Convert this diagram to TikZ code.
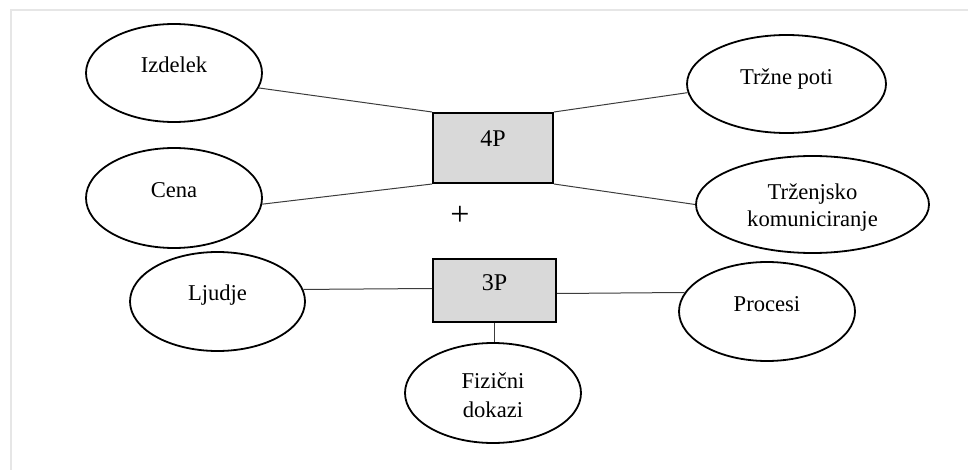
\documentclass[tikz,border=0pt]{standalone}
\usepackage{fontspec}
\setmainfont{Liberation Serif}
\usetikzlibrary{shapes.geometric}

\definecolor{framegray}{HTML}{E6E6E6}
\definecolor{boxfill}{HTML}{D9D9D9}
\definecolor{linkgray}{HTML}{3C3C3C}

\tikzset{
  oval/.style={ellipse, draw=black, line width=0.9pt, fill=white, inner sep=0pt},
  pbox/.style={rectangle, draw=black, line width=1pt, fill=boxfill, inner sep=0pt},
  label text/.style={anchor=base, inner sep=0pt, font=\fontsize{11.3}{13}\selectfont},
  box text/.style={anchor=base, inner sep=0pt, font=\fontsize{12}{14}\selectfont},
  link/.style={draw=linkgray, line width=0.5pt},
  frame line/.style={draw=framegray, line width=1pt}
}

\begin{document}
\begin{tikzpicture}[x=0.5pt, y=-0.5pt]
  \useasboundingbox (0,0) rectangle (968,470);

  % outer frame (top and left edges)
  \draw[frame line] (11,471) -- (11,10) -- (969,10);

  % central boxes
  \node[pbox, minimum width=60pt, minimum height=35pt] (p4) at (493,148) {};
  \node[pbox, minimum width=61.5pt, minimum height=31.5pt] (p3) at (494.5,290.5) {};

  % 4P elements
  \node[oval, minimum width=88pt, minimum height=49pt] (izd) at (174,73) {};
  \node[oval, minimum width=88pt, minimum height=50pt] (cena) at (174,198) {};
  \node[oval, minimum width=99.5pt, minimum height=49pt] (trz) at (786.5,84) {};
  \node[oval, minimum width=116.5pt, minimum height=48.5pt] (tk) at (812.5,204.5) {};

  % 3P elements
  \node[oval, minimum width=87.5pt, minimum height=49.5pt] (lju) at (217.5,301.5) {};
  \node[oval, minimum width=88pt, minimum height=49.5pt] (proc) at (767,311.5) {};
  \node[oval, minimum width=88pt, minimum height=50pt] (fiz) at (493,393) {};

  % connectors
  \draw[link] (izd.-10) -- (p4.north west);
  \draw[link] (cena.-4) -- (p4.south west);
  \draw[link] (p4.north east) -- (trz.185);
  \draw[link] (p4.south east) -- (tk.180);
  \draw[link] (lju.8) -- ([yshift=1pt]p3.west);
  \draw[link] ([yshift=-1.5pt]p3.east) -- (proc.167);
  \draw[link] (p3.south) -- (p3.south |- fiz.north);

  % texts
  \node[box text] (t4p) at (493,146.7) {4P};
  \node[box text] (t3p) at (494.5,290.7) {3P};
  \node[inner sep=0pt, font=\fontsize{17}{17}\selectfont] (plus) at (460,216) {+};

  \node[label text] (tizd) at (174,73) {Izdelek};
  \node[label text] (tcena) at (174,198) {Cena};
  \node[label text] (ttrz) at (786.5,85) {Tržne poti};
  \node[label text] (ttk1) at (812.5,200) {Trženjsko};
  \node[label text] (ttk2) at (812.5,227) {komuniciranje};
  \node[label text] (tlju) at (217.5,300) {Ljudje};
  \node[label text] (tproc) at (767,311) {Procesi};
  \node[label text] (tfiz1) at (493,388) {Fizični};
  \node[label text] (tfiz2) at (493,417) {dokazi};
\end{tikzpicture}
\end{document}
